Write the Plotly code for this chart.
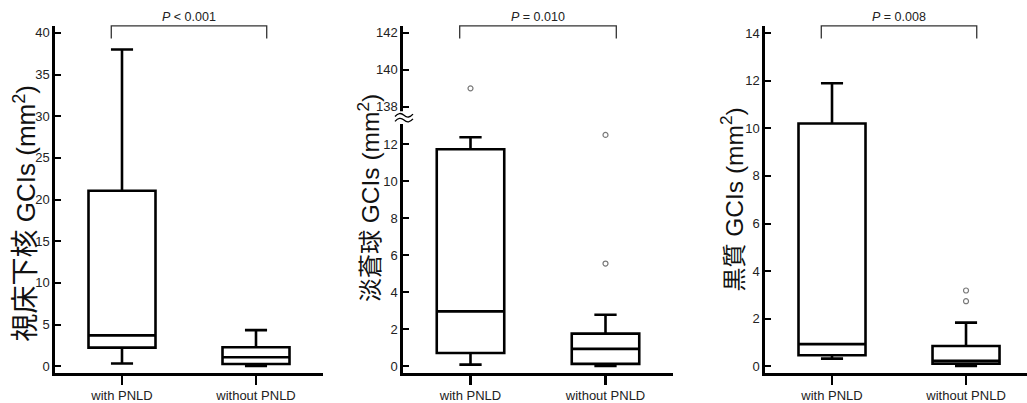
import plotly.graph_objects as go

# ---------------- data (five-number summaries) ----------------
groups = ["with PNLD", "without PNLD"]
regions = ["視床下核", "淡蒼球", "黒質"]
p_labels = ["<i>P</i> &lt; 0.001", "<i>P</i> = 0.010", "<i>P</i> = 0.008"]

stn_lower = [0.32, 0.02]
stn_q1 = [2.23, 0.27]
stn_median = [3.70, 1.07]
stn_q3 = [21.05, 2.27]
stn_upper = [38.0, 4.33]
stn_outliers = [[], []]

gp_lower = [0.10, 0.03]
gp_q1 = [0.73, 0.14]
gp_median = [2.97, 0.95]
gp_q3 = [11.72, 1.77]
gp_upper = [12.36, 2.79]
gp_outliers = [[139.0], [5.55, 12.49]]

sn_lower = [0.33, 0.02]
sn_q1 = [0.47, 0.12]
sn_median = [0.94, 0.24]
sn_q3 = [10.20, 0.86]
sn_upper = [11.89, 1.84]
sn_outliers = [[], [2.74, 3.19]]

stn_ticks = [0, 5, 10, 15, 20, 25, 30, 35, 40]
gp_ticks = [0, 2, 4, 6, 8, 10, 12, 138, 140, 142]
sn_ticks = [0, 2, 4, 6, 8, 10, 12, 14]

# broken axis for the globus pallidus panel: values above the break are shifted down
GP_BREAK = 13.4
GP_SHIFT = 124.0


def gp_map(v):
    return v - GP_SHIFT if v > GP_BREAK else v


# ---------------- layout geometry ----------------
W, H = 1027, 403
FONT = "Liberation Sans, Arial, sans-serif"
TFONT = "Liberation Sans, Noto Sans CJK JP, sans-serif"

x_domains = [(55 / W, 323 / W), (403 / W, 673 / W), (765 / W, 1.0)]
x_ranges = [[-0.5, 1.5], [-0.5, 1.5], [-0.5, 1.455]]
y_dom = ((H - 374) / H, (H - 25) / H)
y_ranges = [[-0.836, 40.84], [-0.36, 18.37], [-0.28, 14.30]]
title_x = [25 / W, 368 / W, 732 / W]
title_y = [(H - 213.5) / H, (H - 198) / H, (H - 199.5) / H]
title_cjk_size = [28, 24, 24]
title_lat_size = [26, 24.5, 24.5]

panels = [
    dict(lower=stn_lower, q1=stn_q1, med=stn_median, q3=stn_q3, upper=stn_upper,
         out=stn_outliers, ticks=stn_ticks, f=lambda v: v),
    dict(lower=gp_lower, q1=gp_q1, med=gp_median, q3=gp_q3, upper=gp_upper,
         out=gp_outliers, ticks=gp_ticks, f=gp_map),
    dict(lower=sn_lower, q1=sn_q1, med=sn_median, q3=sn_q3, upper=sn_upper,
         out=sn_outliers, ticks=sn_ticks, f=lambda v: v),
]

fig = go.Figure()
layout = dict(width=W, height=H, margin=dict(l=0, r=0, t=0, b=0),
              paper_bgcolor="white", plot_bgcolor="white", showlegend=False,
              font=dict(family=FONT, color="#222"))
shapes = []
annotations = []

for i, p in enumerate(panels):
    n = "" if i == 0 else str(i + 1)
    xa, ya = "x" + n, "y" + n
    f = p["f"]
    pos = list(range(len(groups)))
    fig.add_trace(go.Box(
        x=pos,
        q1=[f(v) for v in p["q1"]], median=[f(v) for v in p["med"]],
        q3=[f(v) for v in p["q3"]], lowerfence=[f(v) for v in p["lower"]],
        upperfence=[f(v) for v in p["upper"]],
        width=0.5, whiskerwidth=0.33, fillcolor="white",
        line=dict(color="black", width=2.6), boxpoints=False,
        xaxis=xa, yaxis=ya, hoverinfo="skip"))
    ox, oy = [], []
    for g, vals in enumerate(p["out"]):
        for v in vals:
            ox.append(g)
            oy.append(f(v))
    if ox:
        fig.add_trace(go.Scatter(
            x=ox, y=oy, mode="markers", xaxis=xa, yaxis=ya, hoverinfo="skip",
            marker=dict(symbol="circle-open", size=5, color="#7a7a7a",
                        line=dict(width=1.2, color="#7a7a7a"))))

    layout["xaxis" + n] = dict(
        domain=list(x_domains[i]), range=x_ranges[i], anchor=ya, fixedrange=True,
        tickmode="array", tickvals=pos, ticktext=groups,
        showline=True, linecolor="black", linewidth=2.6,
        ticks="outside", ticklen=9, tickwidth=2.5, tickcolor="black",
        showgrid=False, zeroline=False, tickfont=dict(size=13, color="#222"))
    layout["yaxis" + n] = dict(
        domain=list(y_dom), range=y_ranges[i], anchor=xa, fixedrange=True,
        tickmode="array", tickvals=[f(v) for v in p["ticks"]],
        ticktext=[str(v) for v in p["ticks"]],
        showline=True, linecolor="black", linewidth=2.6,
        ticks="inside", ticklen=6, tickwidth=2, tickcolor="black",
        showgrid=False, zeroline=False, tickfont=dict(size=13, color="#222"))

    # significance bracket
    top, leg = y_dom[1], (H - 37.7) / H
    shapes.append(dict(type="path", xref=xa, yref="paper",
                       path=f"M -0.08,{leg} L -0.08,{top} L 1.08,{top} L 1.08,{leg}",
                       line=dict(color="#333", width=1.3)))
    annotations.append(dict(xref=xa, yref="paper", x=0.5, y=(H - 16) / H,
                            yanchor="middle",
                            text=p_labels[i], showarrow=False,
                            font=dict(size=12.5, color="#222", family=FONT)))
    # y title
    ttl = (f"<span style='font-size:{title_cjk_size[i]}px'>{regions[i]}</span>"
           f" GCIs (mm<sup>2</sup>)")
    annotations.append(dict(xref="paper", yref="paper", x=title_x[i], y=title_y[i],
                            text=ttl, textangle=-90,
                            showarrow=False, xanchor="center", yanchor="middle",
                            font=dict(size=title_lat_size[i], color="#111", family=TFONT)))

# axis-break marker on the second panel
ax0 = x_domains[1][0]
dx = 1.0 / W
shapes.append(dict(type="rect", xref="paper", yref="y2", layer="above",
                   x0=ax0 - 4 * dx, x1=ax0 + 3 * dx, y0=GP_BREAK - 0.32, y1=GP_BREAK + 0.36,
                   fillcolor="white", line=dict(width=0)))
for off in (-0.13, 0.13):
    yb = GP_BREAK + off
    a = 0.12
    xs = [ax0 - 8 * dx + k * 4.5 * dx for k in range(5)]
    path = (f"M {xs[0]},{yb - 0.05} Q {xs[1]},{yb + a * 2} {xs[2]},{yb + 0.02} "
            f"T {xs[4]},{yb + 0.08}")
    shapes.append(dict(type="path", xref="paper", yref="y2", layer="above", path=path,
                       line=dict(color="black", width=1.3)))

layout["shapes"] = shapes
layout["annotations"] = annotations
fig.update_layout(**layout)
fig.write_html(
    "out.html",
    config={"displayModeBar": False, "staticPlot": True},
    post_script="document.body.style.margin='0';document.body.style.overflow='hidden';",
)
